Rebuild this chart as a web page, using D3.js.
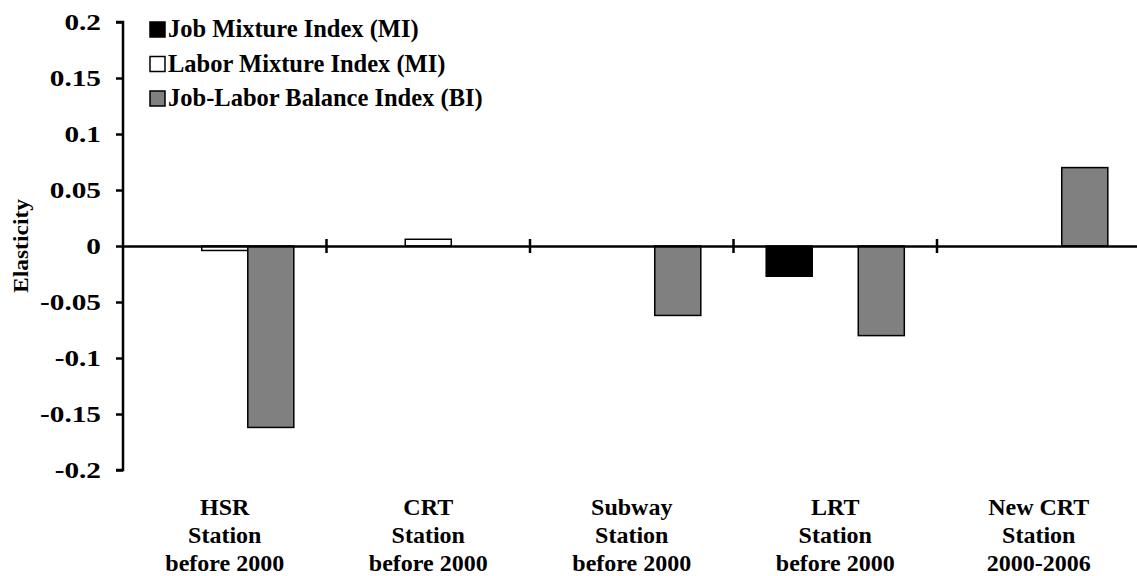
<!DOCTYPE html>
<html><head><meta charset="utf-8">
<script src="https://cdn.jsdelivr.net/npm/d3@7"></script>
<style>body{margin:0;background:#fff}svg{display:block}text{font-family:"Liberation Serif","Times New Roman",serif;font-weight:bold;fill:#000}</style>
</head><body><svg id="c" width="1137" height="576"></svg>
<script>
const categories = [["HSR","Station","before 2000"],["CRT","Station","before 2000"],["Subway","Station","before 2000"],["LRT","Station","before 2000"],["New CRT","Station","2000-2006"]];
const seriesNames = ["Job Mixture Index (MI)","Labor Mixture Index (MI)","Job-Labor Balance Index (BI)"];
const jobMI = [0, 0, 0, -0.027, 0];
const laborMI = [-0.004, 0.006, 0, 0, 0];
const balanceBI = [-0.162, 0, -0.062, -0.080, 0.070];
const yTicks = [0.2,0.15,0.1,0.05,0,-0.05,-0.1,-0.15,-0.2];
const colors = ["#000000","#ffffff","#808080"];

(function(){
const svg = d3.select("#c");
const mL = 123, mR = 1140.5, mT = 22, mB = 470;
const y = d3.scaleLinear().domain([-0.2,0.2]).range([mB, mT]);
const x0 = d3.scaleBand().domain(d3.range(categories.length)).range([mL, mR]).paddingInner(0).paddingOuter(0);
const x1 = d3.scaleBand().domain(d3.range(3)).range([0, x0.bandwidth()]).paddingOuter(0.71).paddingInner(0);

const series = [jobMI, laborMI, balanceBI];
const g = svg.append("g");
series.forEach((vals, si) => {
  g.selectAll(null).data(vals.map((v,i)=>({v,i})).filter(d => d.v !== 0)).enter()
    .append("rect")
    .attr("x", d => x0(d.i) + x1(si))
    .attr("width", x1.bandwidth())
    .attr("y", d => y(Math.max(0, d.v)))
    .attr("height", d => Math.abs(y(d.v) - y(0)))
    .attr("fill", colors[si]).attr("stroke", "#000").attr("stroke-width", 1.5);
});

// y axis
const sx = 1.22;
const ya = d3.axisLeft(y).tickValues(yTicks).tickFormat(d => d===0 ? "0" : String(d)).tickSize(7).tickPadding(15);
const yg = svg.append("g").attr("transform", `translate(${mL},0)`).call(ya);
yg.select(".domain").attr("stroke-width", 2.5).attr("d", `M-7,${mT}H0V${mB}H-7`);
yg.selectAll(".tick line").attr("stroke-width", 2.5);
yg.selectAll(".tick text").style("font-size","24px").attr("fill","#000")
  .attr("x", -22 / sx).attr("transform", `scale(${sx},1)`);

// x axis at zero
const xa = d3.axisBottom(x0).tickValues([]).tickSizeOuter(0);
const xg = svg.append("g").attr("transform", `translate(0,${y(0)})`).call(xa);
xg.select(".domain").attr("stroke-width", 2.5);
xg.selectAll(null).data(d3.range(1, categories.length)).enter().append("line")
  .attr("x1", i => x0(i)).attr("x2", i => x0(i)).attr("y1", -7).attr("y2", 7)
  .attr("stroke", "#000").attr("stroke-width", 2.5);

// category labels
categories.forEach((lines, i) => {
  const t = svg.append("text").attr("text-anchor","middle").style("font-size","24px")
    .attr("transform", `translate(${x0(i)+x0.bandwidth()/2},0)`);
  lines.forEach((ln, k) => t.append("tspan").attr("x", 0).attr("y", 515 + k*28).text(ln));
});

// y label
svg.append("text").attr("transform","translate(28,246) rotate(-90)").attr("text-anchor","middle")
  .style("font-size","21px").attr("textLength", 94).attr("lengthAdjust","spacingAndGlyphs").text("Elasticity");

// legend
const lg = svg.append("g");
seriesNames.forEach((n, i) => {
  const base = 37 + i*34.5;
  lg.append("rect").attr("x",150).attr("y",base-15).attr("width",15).attr("height",15).attr("fill",colors[i]).attr("stroke","#000").attr("stroke-width",1.5);
  lg.append("text").attr("x",168).attr("y",base).style("font-size","24.5px").text(n);
});
})();
</script></body></html>
